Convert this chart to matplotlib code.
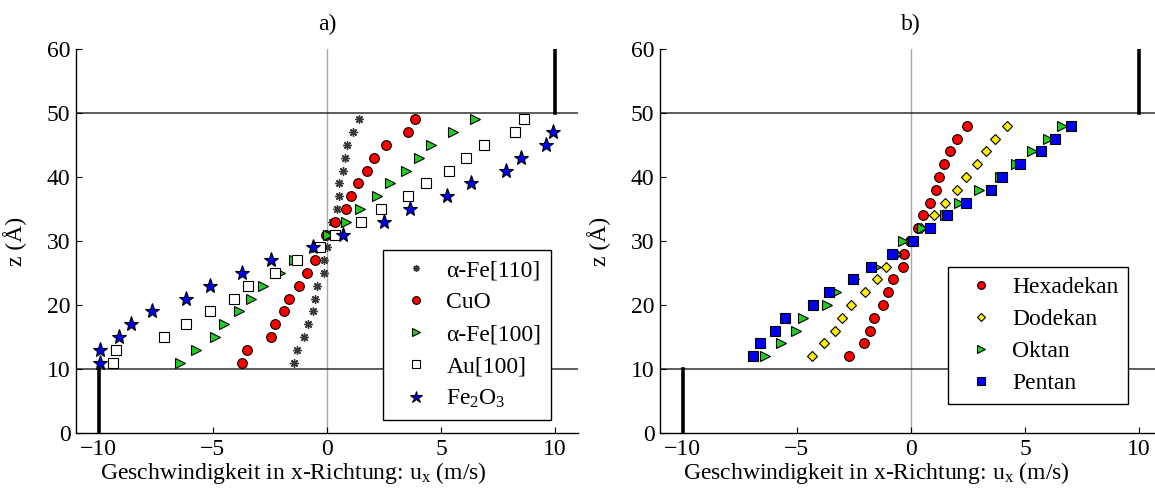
import numpy as np
import matplotlib
matplotlib.use("Agg")
import matplotlib.pyplot as plt

plt.rcParams['font.family'] = ['Liberation Serif', 'DejaVu Serif']
plt.rcParams['mathtext.fontset'] = 'custom'
plt.rcParams['mathtext.rm'] = 'Liberation Serif'
plt.rcParams['mathtext.it'] = 'Liberation Serif'
FS = 17

# ---- panel a): wall materials ----
z_a = list(range(11, 50, 2))          # 11 ... 49
z_fe2o3 = list(range(11, 48, 2))      # 11 ... 47

u_fe110 = [-1.44, -1.30, -0.99, -0.82, -0.60, -0.53, -0.42, -0.15, -0.14, 0.01,
           0.13, 0.23, 0.42, 0.54, 0.52, 0.71, 0.80, 0.86, 1.12, 1.39]
u_cuo = [-3.71, -3.50, -2.45, -2.28, -1.88, -1.68, -1.24, -0.88, -0.53, -0.36,
         -0.04, 0.33, 0.85, 1.04, 1.36, 1.77, 2.07, 2.57, 3.53, 3.87]
u_fe100 = [-6.42, -5.73, -4.90, -4.52, -3.85, -3.34, -2.79, -2.06, -1.45, -0.45,
           0.05, 0.82, 1.44, 2.20, 2.76, 3.46, 4.03, 4.54, 5.53, 6.49]
u_au100 = [-9.37, -9.25, -7.13, -6.18, -5.12, -4.07, -3.44, -2.29, -1.33, -0.31,
           0.35, 1.49, 2.35, 3.57, 4.32, 5.35, 6.11, 6.86, 8.23, 8.62]
u_fe2o3 = [-9.96, -9.96, -9.13, -8.61, -7.66, -6.20, -5.14, -3.73, -2.44, -0.60,
           0.71, 2.51, 3.66, 5.28, 6.33, 7.86, 8.52, 9.61, 9.90]

# ---- panel b): alkanes ----
z_b = list(range(12, 49, 2))          # 12 ... 48

u_hexadekan = [-2.70, -2.05, -1.80, -1.64, -1.23, -1.02, -0.78, -0.37, -0.32, -0.05,
               0.32, 0.53, 0.83, 1.08, 1.21, 1.45, 1.70, 2.00, 2.45]
u_dodekan = [-4.33, -3.79, -3.32, -3.01, -2.62, -2.00, -1.49, -1.08, -0.64, -0.03,
             0.45, 1.02, 1.50, 2.00, 2.40, 2.90, 3.30, 3.70, 4.20]
u_oktan = [-6.39, -5.69, -5.03, -4.72, -3.70, -3.29, -2.51, -1.52, -0.64, -0.37,
           0.48, 1.50, 2.10, 3.00, 3.90, 4.60, 5.30, 6.00, 6.60]
u_pentan = [-6.94, -6.61, -5.94, -5.50, -4.28, -3.57, -2.56, -1.75, -0.83, 0.07,
            0.83, 1.60, 2.40, 3.50, 4.00, 4.80, 5.70, 6.30, 7.00]

xticks = [-10, -5, 0, 5, 10]
yticks = [0, 10, 20, 30, 40, 50, 60]


def style_axes(ax, title):
    # channel walls: gray centre line, wall planes, moving wall segments
    ax.axvline(0, color='#a8a8a8', lw=1.0, zorder=1)
    ax.axhline(10, color='#303030', lw=1.1, zorder=1)
    ax.axhline(50, color='#303030', lw=1.1, zorder=1)
    ax.plot([10, 10], [50, 60], color='black', lw=2.6, zorder=1)
    ax.plot([-10, -10], [0, 10], color='black', lw=2.6, zorder=1)

    ax.set_xlim(-11, 11)
    ax.set_ylim(0, 60)
    ax.set_xticks(xticks)
    ax.set_yticks(yticks)
    ax.tick_params(direction='in', length=4, width=0.8, labelsize=FS, pad=4)
    for side in ('top', 'right'):
        ax.spines[side].set_visible(False)
    for side in ('left', 'bottom'):
        ax.spines[side].set_linewidth(1.0)
    ax.set_title(title, fontsize=FS, pad=14)
    ax.set_xlabel('Geschwindigkeit in x-Richtung: u$_{\\mathrm{x}}$ (m/s)', fontsize=FS)
    ax.xaxis.set_label_coords(0.432, -0.07)
    ax.set_ylabel('z (Å)', fontsize=FS)
    ax.yaxis.set_label_coords(-0.097, 0.5)


fig = plt.figure(figsize=(11.55, 4.97), dpi=100)
ax1 = fig.add_axes([0.0658, 0.1288, 0.4346, 0.7726])
ax2 = fig.add_axes([0.5714, 0.1288, 0.4346, 0.7726])

style_axes(ax1, 'a)')
style_axes(ax2, 'b)')

ax1.plot(u_fe110, z_a, ls='none', marker=(8, 2, 0), ms=6, mew=1.0,
         color='#3a3a3a', label='α-Fe[110]', zorder=3)
ax1.plot(u_cuo, z_a, ls='none', marker='o', ms=7, mfc='red', mec='black', mew=0.8,
         label='CuO', zorder=3)
ax1.plot(u_fe100, z_a, ls='none', marker='>', ms=6.5, mfc='#22cc22', mec='black', mew=0.8,
         label='α-Fe[100]', zorder=3)
ax1.plot(u_au100, z_a, ls='none', marker='s', ms=6.5, mfc='white', mec='black', mew=0.8,
         label='Au[100]', zorder=3)
ax1.plot(u_fe2o3, z_fe2o3, ls='none', marker='*', ms=11, mfc='#0000ee', mec='black', mew=0.8,
         label='Fe$_2$O$_3$', zorder=3)

ax2.plot(u_hexadekan, z_b, ls='none', marker='o', ms=7, mfc='red', mec='black', mew=0.8,
         label='Hexadekan', zorder=3)
ax2.plot(u_dodekan, z_b, ls='none', marker='D', ms=5, mfc='#ffee00', mec='black', mew=0.8,
         label='Dodekan', zorder=3)
ax2.plot(u_oktan, z_b, ls='none', marker='>', ms=6.5, mfc='#22cc22', mec='black', mew=0.8,
         label='Oktan', zorder=3)
ax2.plot(u_pentan, z_b, ls='none', marker='s', ms=7, mfc='#0000ee', mec='black', mew=0.8,
         label='Pentan', zorder=3)

for ax, anchor in ((ax1, (0.946, 0.034)), (ax2, (0.932, 0.076))):
    leg = ax.legend(loc='lower right', bbox_to_anchor=anchor, fontsize=FS,
                    fancybox=False, framealpha=1, edgecolor='black',
                    borderpad=0.4, borderaxespad=0, handletextpad=0.3,
                    labelspacing=0.45, handlelength=2.0, markerscale=0.8)
    leg.get_frame().set_linewidth(1.0)
    leg.set_zorder(5)

fig.savefig('out.png', dpi=100)
